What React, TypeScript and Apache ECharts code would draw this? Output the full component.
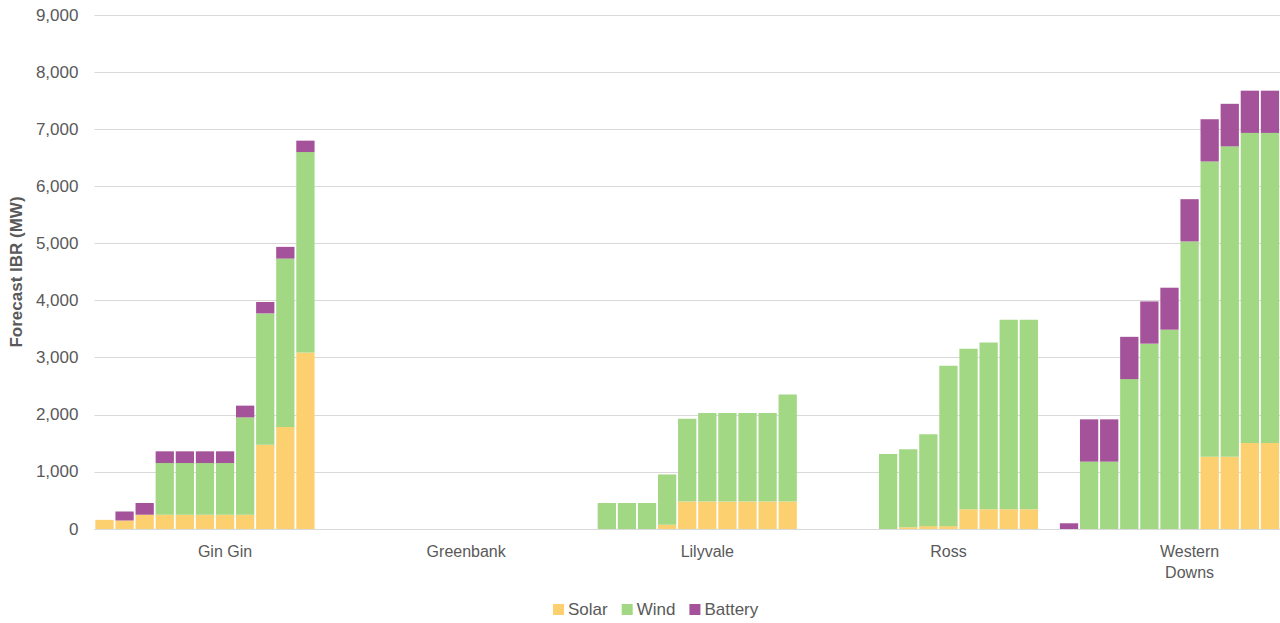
import React, { useEffect, useRef } from "react";
import * as echarts from "echarts";

const regions = ["Gin Gin", "Greenbank", "Lilyvale", "Ross", "Western\nDowns"];
const slotsPerRegion = 11;

const solar: number[][] = [
  [160, 150, 250, 250, 250, 250, 250, 250, 1475, 1785, 3090],
  [0, 0, 0, 0, 0, 0, 0, 0, 0, 0, 0],
  [0, 0, 0, 0, 75, 480, 480, 480, 480, 480, 480],
  [0, 0, 0, 0, 30, 50, 50, 345, 345, 345, 345],
  [0, 0, 0, 0, 0, 0, 0, 1265, 1265, 1505, 1505],
];
const wind: number[][] = [
  [0, 0, 0, 905, 905, 905, 905, 1705, 2300, 2950, 3510],
  [0, 0, 0, 0, 0, 0, 0, 0, 0, 0, 0],
  [0, 455, 455, 455, 880, 1450, 1550, 1550, 1550, 1550, 1875],
  [0, 0, 0, 1315, 1365, 1610, 2810, 2810, 2920, 3320, 3320],
  [0, 1180, 1180, 2625, 3245, 3490, 5035, 5170, 5435, 5430, 5430],
];
const battery: number[][] = [
  [0, 155, 205, 205, 205, 205, 205, 205, 200, 205, 200],
  [0, 0, 0, 0, 0, 0, 0, 0, 0, 0, 0],
  [0, 0, 0, 0, 0, 0, 0, 0, 0, 0, 0],
  [0, 0, 0, 0, 0, 0, 0, 0, 0, 0, 0],
  [100, 740, 740, 740, 740, 735, 740, 740, 745, 740, 740],
];

const seriesNames = ["Solar", "Wind", "Battery"];
const seriesColors = ["#FCD06E", "#A2D884", "#A4529A"];
const yTicks = { min: 0, max: 9000, interval: 1000 };

function buildCategories() {
  const cats: string[] = [];
  const labels: Record<number, string> = {};
  regions.forEach((r, ri) => {
    const start = cats.length;
    for (let i = 0; i < slotsPerRegion; i++) cats.push(`${r}-${i}`);
    labels[start + 6] = r;
    if (ri < regions.length - 1) cats.push(`sep-${ri}`);
  });
  return { cats, labels };
}

function flatten(groups: number[][]): (number | null)[] {
  const out: (number | null)[] = [];
  groups.forEach((g, gi) => {
    g.forEach((v) => out.push(v));
    if (gi < groups.length - 1) out.push(null);
  });
  return out;
}

export default function App() {
  const ref = useRef<HTMLDivElement>(null);
  useEffect(() => {
    if (!ref.current) return;
    const chart = echarts.init(ref.current, undefined, { renderer: "svg" });
    const { cats, labels } = buildCategories();
    const font = "'Liberation Sans', Arial, sans-serif";
    const dataSets = [solar, wind, battery];
    chart.setOption({
      animation: false,
      textStyle: { fontFamily: font },
      grid: { left: 90, right: 0, top: 15, bottom: 94, containLabel: false },
      legend: {
        bottom: 0,
        left: 548,
        itemWidth: 11,
        itemHeight: 11,
        itemGap: 14,
        icon: "rect",
        textStyle: { fontSize: 17, color: "#595959", fontFamily: font, padding: [0, 0, 0, -1] },
        data: seriesNames,
      },
      xAxis: {
        type: "category",
        data: cats,
        axisLine: { lineStyle: { color: "#D9D9D9", width: 1 } },
        axisTick: { show: false },
        axisLabel: {
          interval: 0,
          margin: 12,
          fontSize: 16,
          lineHeight: 21,
          color: "#595959",
          fontFamily: font,
          formatter: (_v: string, idx: number) => labels[idx] || "",
        },
      },
      yAxis: {
        type: "value",
        min: yTicks.min,
        max: yTicks.max,
        interval: yTicks.interval,
        name: "Forecast IBR (MW)",
        nameLocation: "middle",
        nameGap: 69,
        nameTextStyle: { fontSize: 17, fontWeight: "bold", color: "#595959", fontFamily: font },
        axisLine: { show: false },
        axisTick: { show: false },
        splitLine: { lineStyle: { color: "#D9D9D9", width: 1 } },
        axisLabel: {
          margin: 16,
          fontSize: 17,
          color: "#595959",
          fontFamily: font,
          formatter: (v: number) => v.toLocaleString("en-US"),
        },
      },
      series: seriesNames.map((name, i) => ({
        name,
        type: "bar",
        stack: "total",
        barCategoryGap: "9%",
        itemStyle: { color: seriesColors[i] },
        data: flatten(dataSets[i]),
      })),
    });
    return () => chart.dispose();
  }, []);
  return (
    <div
      ref={ref}
      style={{ position: "fixed", left: 0, top: 0, width: 1280, height: 623, background: "#fff" }}
    />
  );
}
